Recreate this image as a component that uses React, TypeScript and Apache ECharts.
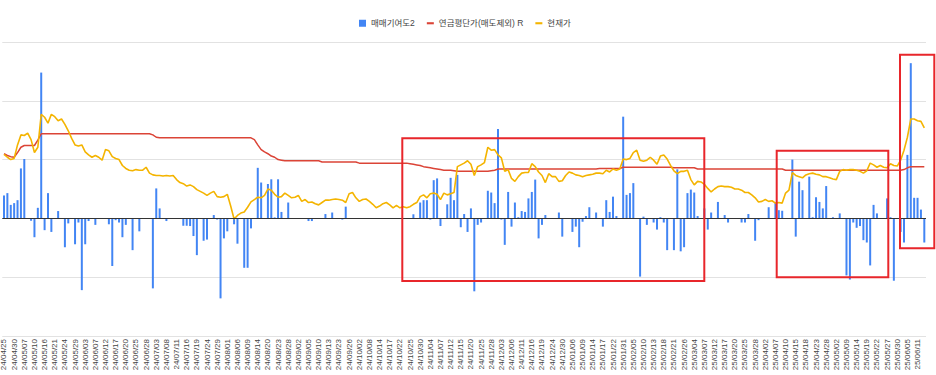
import React, { useEffect, useRef } from "react";
import * as echarts from "echarts";

const FONT = "'Liberation Sans', 'Noto Sans CJK KR', Arial, sans-serif";

const S_BAR = "매매기여도2";
const S_AVG = "연금평단가(매도제외) R";
const S_PRICE = "현재가";

// KRX trading days, per month
const monthDays: [string, string][] = [
  ["24/04", "25 26 29 30"],
  ["24/05", "02 03 07 08 09 10 13 14 16 17 20 21 22 23 24 27 28 29 30 31"],
  ["24/06", "03 04 05 07 10 11 12 13 14 17 18 19 20 21 24 25 26 27 28"],
  ["24/07", "01 02 03 04 05 08 09 10 11 12 15 16 17 18 19 22 23 24 25 26 29 30 31"],
  ["24/08", "01 02 05 06 07 08 09 12 13 14 16 19 20 21 22 23 26 27 28 29 30"],
  ["24/09", "02 03 04 05 06 09 10 11 12 13 19 20 23 24 25 26 27 30"],
  ["24/10", "02 04 07 08 10 11 14 15 16 17 18 21 22 23 24 25 28 29 30 31"],
  ["24/11", "01 04 05 06 07 08 11 12 13 14 15 18 19 20 21 22 25 26 27 28 29"],
  ["24/12", "02 03 04 05 06 09 10 11 12 13 16 17 18 19 20 23 24 26 27 30"],
  ["25/01", "02 03 06 07 08 09 10 13 14 15 16 17 20 21 22 23 24 31"],
  ["25/02", "03 04 05 06 07 10 11 12 13 14 17 18 19 20 21 24 25 26 27 28"],
  ["25/03", "04 05 06 07 10 11 12 13 14 17 18 19 20 21 24 25 26 27 28 31"],
  ["25/04", "01 02 03 04 07 08 09 10 11 14 15 16 17 18 21 22 23 24 25 28 29 30"],
  ["25/05", "02 07 08 09 12 13 14 15 16 19 20 21 22 23 26 27 28 29 30"],
  ["25/06", "02 04 05 09 10 11 12 13"],
];
const dates: string[] = monthDays.flatMap(([m, d]) => d.split(" ").map((x) => `${m}/${x}`));

// 매매기여도2 (left axis)
const contribution: number[] = [
  0.39, 0.43, 0.23, 0.26, 0.31, 0.85, 1.01, 0, -0.04, -0.32,
  0.18, 2.48, -0.2, 0.43, -0.23, 0, 0.125, 0, -0.49, -0.085,
  0, -0.44, -0.07, -1.22, -0.44, -0.045, 0, -0.11, 0, 0,
  0, -0.1, -0.81, -0.03, -0.07, -0.32, -0.11, 0, -0.54, 0,
  -0.22, 0, 0, 0, -1.19, 0.51, 0.17, 0, -0.045, 0,
  0, 0, 0, -0.125, -0.125, -0.13, -0.3, -0.625, 0, -0.38,
  -0.36, 0, 0.057, -0.02, -1.36, -0.34, -0.22, 0, -0.1, -0.43,
  0, -0.84, -0.84, -0.17, 0, 0.86, 0.61, 0, 0.585, 0.665,
  0.017, 0.665, 0.11, 0, 0.27, 0, 0, 0, 0, 0,
  -0.045, -0.045, 0, 0, 0, 0.074, 0, 0.1, 0, 0,
  -0.02, 0.2, 0, 0, 0, 0, 0, 0, 0, 0,
  0, 0, 0, 0, 0, 0, 0, 0, 0, 0,
  0, 0.07, 0, 0.27, 0.31, 0.31, -0.02, 0.65, 0.68, -0.13,
  0, 0.24, 0.69, 0.31, 0.74, -0.15, 0.074, -0.23, 0.17, -1.24,
  -0.11, -0.07, 0, 0.47, 0.44, 0.26, 1.52, -0.02, -0.45, 0.45,
  -0.14, 0.27, 0.02, 0.125, 0.11, 0.34, 0.45, 0.66, -0.34, -0.11,
  0.057, 0, 0, 0, 0.1, -0.31, 0, 0, -0.23, -0.14,
  -0.49, -0.057, 0.04, 0.19, 0, 0.1, 0, -0.14, 0.31, 0.11,
  0.37, 0.04, 0, 1.73, 0.4, 0.43, 0.6, 0, -0.99, 0.03,
  -0.11, 0, -0.07, -0.19, 0.02, -0.07, -0.54, 0, -0.54, 0.835,
  -0.56, -0.49, 0.43, 0.49, 0.44, 0.04, 0, 0.17, -0.19, 0.1,
  0, 0.28, 0, 0.057, -0.07, 0, 0, 0, -0.07, -0.07,
  0.074, 0, -0.38, -0.03, 0, 0, 0.19, 0, 0.27, 0.14,
  0.13, 0, 0, 1.0, -0.31, 0.625, 0.48, 0, 0.71, 0.02,
  0.36, 0.28, 0.17, 0.55, 0, 0.02, 0, 0.085, 0, -0.97,
  -1.04, -0.07, -0.16, -0.13, -0.37, -0.41, -0.8, 0.23, 0.085, 0,
  0, 0.34, 0.02, -1.06, 0, -0.23, -0.41, 1.08, 2.64, 0.35,
  0.35, 0.15, -0.41,
];

// 연금평단가(매도제외) R (right axis, thousand KRW)
const avgCost: number[] = [
  31.0, 30.7, 30.5, 30.4, 31.2, 32.1, 32.4, 32.4, 32.4, 32.4,
  33.3, 34.4, 34.4, 34.4, 34.4, 34.4, 34.4, 34.4, 34.4, 34.4,
  34.4, 34.4, 34.4, 34.4, 34.4, 34.4, 34.4, 34.4, 34.4, 34.4,
  34.4, 34.4, 34.4, 34.4, 34.4, 34.4, 34.4, 34.4, 34.4, 34.4,
  34.4, 34.4, 34.4, 34.4, 34.2, 33.8, 33.7, 33.7, 33.7, 33.7,
  33.7, 33.7, 33.7, 33.7, 33.7, 33.7, 33.7, 33.7, 33.7, 33.7,
  33.7, 33.7, 33.7, 33.7, 33.7, 33.7, 33.7, 33.7, 33.7, 33.7,
  33.7, 33.7, 33.7, 33.7, 33.4, 32.5, 31.7, 31.3, 31.0, 30.6,
  30.4, 30.0, 29.9, 29.8, 29.8, 29.8, 29.8, 29.8, 29.8, 29.8,
  29.8, 29.8, 29.8, 29.8, 29.6, 29.6, 29.6, 29.6, 29.6, 29.6,
  29.6, 29.6, 29.6, 29.6, 29.6, 29.4, 29.4, 29.4, 29.4, 29.4,
  29.4, 29.4, 29.4, 29.4, 29.4, 29.4, 29.4, 29.4, 29.4, 29.4,
  29.3, 29.2, 29.1, 29.0, 28.8, 28.7, 28.6, 28.5, 28.4, 28.3,
  28.2, 28.2, 28.2, 28.1, 28.0, 28.0, 28.0, 28.0, 28.0, 28.0,
  28.0, 28.0, 28.0, 28.0, 28.1, 28.2, 28.4, 28.4, 28.4, 28.4,
  28.4, 28.4, 28.4, 28.4, 28.4, 28.4, 28.4, 28.4, 28.4, 28.4,
  28.4, 28.4, 28.4, 28.4, 28.4, 28.4, 28.4, 28.4, 28.4, 28.4,
  28.4, 28.4, 28.4, 28.4, 28.4, 28.4, 28.5, 28.5, 28.5, 28.5,
  28.5, 28.5, 28.5, 28.7, 28.7, 28.7, 28.7, 28.7, 28.7, 28.7,
  28.7, 28.7, 28.7, 28.7, 28.7, 28.7, 28.7, 28.7, 28.6, 28.6,
  28.6, 28.6, 28.6, 28.6, 28.6, 28.4, 28.4, 28.4, 28.4, 28.4,
  28.4, 28.4, 28.4, 28.4, 28.4, 28.4, 28.4, 28.4, 28.4, 28.4,
  28.4, 28.4, 28.4, 28.4, 28.4, 28.4, 28.4, 28.4, 28.4, 28.4,
  28.4, 28.2, 28.2, 28.2, 28.2, 28.2, 28.2, 28.2, 28.2, 28.2,
  28.2, 28.2, 28.2, 28.2, 28.2, 28.2, 28.2, 28.2, 28.2, 28.2,
  28.2, 28.2, 28.2, 28.2, 28.2, 28.2, 28.2, 28.2, 28.2, 28.2,
  28.2, 28.2, 28.2, 28.2, 28.2, 28.2, 28.3, 28.6, 28.8, 28.8,
  28.8, 28.8, 28.8,
];

// 현재가 (right axis, thousand KRW)
const price: number[] = [
  30.9, 30.4, 30.0, 30.2, 32.5, 34.2, 34.1, 34.5, 33.4, 31.2,
  32.1, 37.7, 37.2, 36.2, 37.7, 37.3, 36.6, 36.9, 36.0, 34.9,
  33.6, 32.5, 32.3, 32.5, 31.3, 30.8, 30.4, 30.7, 30.4, 29.9,
  31.7, 31.5, 30.5, 30.2, 30.0, 29.0, 28.5, 28.2, 28.1, 28.3,
  28.2, 28.2, 28.7, 27.7, 27.4, 27.3, 27.3, 27.2, 27.3, 27.2,
  27.3, 26.6, 26.1, 25.9, 25.5, 25.7, 25.4, 24.9, 24.6, 24.3,
  23.9, 24.3, 24.6, 23.7, 23.6, 23.7, 24.1, 22.1, 19.9, 20.5,
  20.9, 21.1, 21.9, 22.8, 23.2, 23.6, 23.5, 23.9, 25.0, 24.8,
  24.1, 23.6, 23.7, 24.3, 23.9, 23.5, 23.6, 23.9, 22.9, 23.2,
  22.7, 22.8, 22.5, 22.3, 22.7, 23.1, 23.1, 23.2, 23.3, 23.2,
  23.1, 22.7, 24.2, 24.4, 23.5, 22.9, 23.2, 23.3, 22.9, 22.4,
  21.8, 22.1, 22.5, 22.7, 22.3, 21.8, 22.2, 21.8, 22.0, 21.8,
  22.0, 22.4, 22.7, 23.7, 24.0, 23.5, 24.2, 24.3, 24.1, 23.2,
  24.3, 24.0, 24.2, 24.4, 28.8, 29.1, 29.4, 29.8, 29.2, 27.3,
  28.8, 29.1, 29.5, 32.1, 31.6, 31.7, 30.8, 30.3, 28.0, 28.3,
  26.8, 26.3, 27.1, 27.7, 27.8, 27.8, 29.3, 28.8, 27.9, 27.3,
  26.1, 27.6, 27.1, 27.1, 26.3, 26.4, 27.3, 27.9, 27.7, 27.4,
  27.3, 27.1, 27.3, 27.4, 27.5, 27.7, 27.7, 27.6, 28.2, 27.9,
  28.4, 28.2, 28.4, 30.1, 30.0, 30.2, 31.2, 31.6, 29.9, 29.7,
  29.9, 30.4, 29.9, 29.2, 30.6, 30.8, 30.1, 29.0, 28.1, 27.6,
  28.0, 28.0, 28.2, 26.6, 25.7, 26.3, 26.2, 25.8, 25.1, 24.5,
  25.0, 25.4, 25.5, 25.4, 25.4, 25.3, 25.0, 25.0, 24.8, 24.4,
  24.4, 24.0, 23.5, 22.8, 22.9, 23.2, 22.9, 23.0, 22.6, 22.7,
  22.6, 24.3, 24.8, 27.8, 27.3, 27.1, 26.9, 27.4, 27.6, 27.7,
  27.5, 27.4, 27.1, 27.1, 26.9, 26.7, 26.6, 28.0, 28.3, 28.2,
  28.3, 28.3, 28.2, 28.0, 27.7, 28.1, 29.4, 29.1, 28.7, 29.0,
  28.7, 28.6, 29.3, 29.0, 28.9, 29.9, 31.6, 33.8, 36.9, 36.9,
  36.6, 36.5, 35.4,
];

const annotationColor = "#e8262b";

export default function App() {
  const ref = useRef<HTMLDivElement>(null);

  useEffect(() => {
    if (!ref.current) return;
    const chart = echarts.init(ref.current, undefined, { renderer: "svg" });
    const lineIcon = "path://M0,0H8V2.4H0Z";
    const rectStyle = { fill: "none", stroke: annotationColor, lineWidth: 2 };
    chart.setOption({
      animation: false,
      textStyle: { fontFamily: FONT },
      legend: {
        top: 14,
        left: 354,
        itemWidth: 7,
        itemHeight: 7,
        itemGap: 12,
        symbolKeepAspect: true,
        textStyle: { fontSize: 8.5, color: "#444", fontFamily: FONT },
        data: [
          { name: S_BAR, icon: "rect" },
          { name: S_AVG, icon: lineIcon },
          { name: S_PRICE, icon: lineIcon },
        ],
      },
      grid: { left: 0, right: 10, top: 42, bottom: 39, containLabel: false },
      xAxis: {
        type: "category",
        data: dates,
        boundaryGap: true,
        axisLine: { show: false },
        axisTick: { show: false },
        axisLabel: {
          interval: 2,
          rotate: 90,
          fontSize: 8,
          color: "#444",
          margin: 3,
          fontFamily: FONT,
        },
      },
      yAxis: [
        {
          type: "value",
          min: -2,
          max: 3,
          interval: 1,
          axisLabel: { show: false },
          axisLine: { show: false },
          axisTick: { show: false },
          splitLine: { lineStyle: { color: "#e2e2e2", width: 1 } },
        },
        {
          type: "value",
          min: 0,
          max: 50,
          interval: 10,
          position: "right",
          axisLabel: { show: false },
          axisLine: { show: false },
          axisTick: { show: false },
          splitLine: { show: false },
        },
      ],
      series: [
        {
          name: S_BAR,
          type: "bar",
          data: contribution,
          barWidth: 2,
          itemStyle: { color: "#4285f4" },
          markLine: {
            silent: true,
            symbol: "none",
            label: { show: false },
            lineStyle: { color: "#333", width: 1, type: "solid" },
            data: [{ yAxis: 0 }],
          },
        },
        {
          name: S_AVG,
          type: "line",
          yAxisIndex: 1,
          data: avgCost,
          symbol: "none",
          lineStyle: { color: "#db4437", width: 1.5 },
          itemStyle: { color: "#db4437" },
        },
        {
          name: S_PRICE,
          type: "line",
          yAxisIndex: 1,
          data: price,
          symbol: "none",
          lineStyle: { color: "#f4b400", width: 1.6 },
          itemStyle: { color: "#f4b400" },
        },
      ],
      graphic: [
        { type: "rect", z: 100, silent: true, shape: { x: 402.3, y: 138.3, width: 302, height: 142.7 }, style: rectStyle },
        { type: "rect", z: 100, silent: true, shape: { x: 776.7, y: 150.7, width: 111.6, height: 126.6 }, style: rectStyle },
        { type: "rect", z: 100, silent: true, shape: { x: 900, y: 54.7, width: 34.3, height: 193.6 }, style: rectStyle },
      ],
    });
    return () => chart.dispose();
  }, []);

  return (
    <div
      ref={ref}
      style={{ position: "fixed", left: 0, top: 0, width: 936, height: 375, background: "#fff" }}
    />
  );
}
